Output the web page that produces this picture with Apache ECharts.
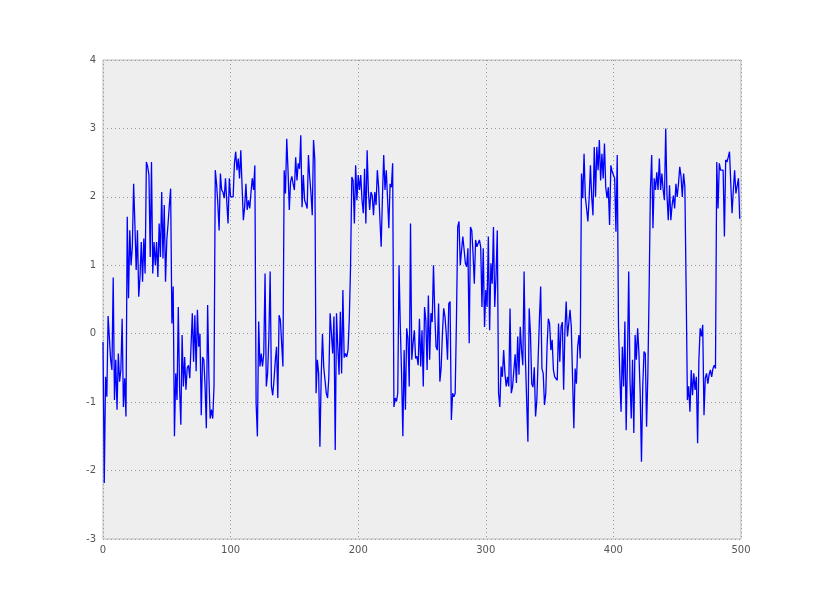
<!DOCTYPE html>
<html>
<head>
<meta charset="utf-8">
<script src="https://cdn.jsdelivr.net/npm/echarts@6/dist/echarts.min.js"></script>
<style>html,body{margin:0;padding:0;background:#fff}#c{width:825px;height:600px}</style>
</head>
<body>
<div id="c"></div>
<script>
const xTicks = [0, 100, 200, 300, 400, 500];
const yTicks = [-3, -2, -1, 0, 1, 2, 3, 4];
const values = [
-0.12, -2.18, -0.63, -0.92, 0.26, 0.26, -0.38, -0.53, 0.82, -0.97, -0.38, -1.11, -0.29, -0.7, -0.53, 0.22, -1.07, -0.65, -1.21, 1.71, 0.52, 1.51, 1.0, 1.27, 2.19, 1.6, 0.93, 1.51, 0.54, 0.83, 1.34, 0.76, 1.39, 0.88, 2.51, 2.44, 2.32, 1.12, 2.51, 0.88, 1.34, 1.00,
1.34, 0.83, 1.61, 1.12, 2.07, 1.10, 1.88, 0.76, 1.37, 1.61, 1.88, 2.12, 0.15, 0.69, -1.50, -0.58, -0.97, 0.39, -0.77, -1.33, -0.02, -0.77, -0.34, -0.82, -0.5, -0.46, -0.65, -0.63, 0.30, -0.41, 0.27, -0.55, 0.35, -0.19, 0.0, -1.19, -0.34, -0.38, -0.77, -1.38, 0.42, -0.63, -1.24, -1.11, -1.24, -0.77,
2.39, 2.19, 1.90, 1.51, 2.34, 2.10, 2.07, 1.98, 2.27, 1.93, 1.61, 2.27, 2.00, 1.98, 2.00, 2.49, 2.66, 2.39, 2.56, 2.27, 2.68, 2.15, 1.66, 1.85, 2.19, 1.81, 1.95, 1.83, 2.07, 2.27, 2.10, 2.46, -1.02, -1.50, 0.18, -0.48, -0.29, -0.48, -0.29,
0.88, -0.77, -0.58, -0.05, 0.91, -0.77, -0.90, -0.68, -0.4, -0.19, -0.94, 0.27, 0.20, 0.20, -0.48, 2.39, 2.05, 2.85, 2.39, 1.81, 2.22, 2.3, 2.19, 2.10, 2.58, 2.24, 2.49, 2.41, 2.90, 1.85, 2.32, 1.95, 1.90, 1.83, 2.61, 2.29, 2.05, 1.73, 2.83, 2.54, -0.87,
-0.38, -0.58, -1.65, -0.63, 0.0, -0.49, -0.68, -0.87, -0.94, -0.63, 0.30, 0.30, -0.29, 0.25, -1.70, 0.30, -0.19, -0.60, 0.32, -0.58, 0.64, -0.35, -0.29, -0.34, -0.24, 0.2, 0.98, 2.29, 2.24, 1.61, 2.46, 1.95, 2.32, 2.10, 2.32, 1.95, 1.76, 2.41, 1.61, 2.68, 2.07, 1.81,
2.07, 2.02, 1.73, 2.07, 1.88, 2.39, 2.14, 1.68, 1.27, 2.00, 2.61, 2.10, 2.39, 1.98, 1.54, 2.19, 2.14, 2.49, -1.07, -0.94, -0.99, -0.87, 1.00, 0.10, -0.58, -1.50, -0.24, -1.11, 0.08, -0.07, -0.77, 1.61, -0.38, -0.14, 0.05, -0.36, -0.33, -0.46, 0.22, -0.48,
0.05, -0.77, 0.39, 0.20, -0.53, 0.56, -0.38, 0.30, 0.17, 1.00, 0.30, -0.19, -0.24, 0.44, -0.70, -0.5, 0.0, 0.37, 0.25, 0.0, -0.38, 0.44, 0.47, -1.26, -0.87, -0.92, -0.87, 0.20, 1.56, 1.64, 1.00, 1.22, 1.42, 1.42, 1.03, 0.98, 1.25, -0.14, 1.56, 1.51, 1.17, 0.73,
1.37, 1.27, 1.27, 1.37, 1.27, 0.39, 1.25, 0.10, 0.64, 0.39, 1.42, 0.05, 1.03, 0.73, 1.56, 0.39, 0.83, 1.51, -0.87, -1.07, -0.48, -0.63, -0.24, -0.58, -0.77, -0.63, -0.77, 0.37, -0.87, -0.77, -0.53, -0.3, -0.72, -0.04, -0.60, 0.10, -0.24, -0.46, 0.91, -0.34, -0.36, -1.58,
0.37, 0.0, -0.73, -0.78, -0.49, -1.21, -0.97, -0.38, 0.20, 0.69, -0.51, -0.58, -1.04, -0.87, -0.19, 0.22, 0.15, -0.24, -0.09, -0.53, -0.63, -0.65, -0.68, 0.15, -0.41, 0.10, 0.17, -0.82, 0.05, 0.47, -0.04, 0.15, 0.35, 0.10, 0.10, -1.38, -0.51, -0.73, -0.19, -0.02, -0.36,
2.34, 1.98, 2.63, 2.00, 1.83, 1.64, 1.98, 2.46, 2.00, 1.73, 2.73, 2.00, 2.73, 2.39, 2.83, 2.24, 2.63, 2.27, 2.78, 2.14, 1.98, 2.14, 1.59, 2.46, 2.37, 2.39, 2.27, 1.49, 2.61, 0.10, -0.58, -1.14, -0.19, -0.77, 0.18, -1.41, -0.38, 0.91, -0.68, -1.24, -0.38, -1.45,
-0.02, -0.38, 0.08, -0.29, -0.87, -1.87, -0.77, -0.26, -0.29, -1.36, -0.6, 0.64, 2.10, 2.61, 1.54, 2.27, 2.10, 2.36, 2.10, 2.56, 2.10, 2.34, 2.10, 1.95, 3.00, 2.02, 1.66, 2.17, 1.66, 1.88, 2.02, 1.83, 2.19, 2.00, 2.19, 2.44, 2.3, 2.00, 2.34, 2.15, 0.68, -0.97,
-0.77, -1.14, -0.53, -0.90, -0.58, -0.82, -0.63, -1.60, -0.38, 0.08, -0.04, 0.13, -1.19, -0.65, -0.58, -0.73, -0.60, -0.53, -0.63, -0.51, -0.46, -0.51, 2.51, 1.83, 2.49, 2.39, 2.41, 2.39, 1.42, 2.54, 2.51, 2.58, 2.66, 2.19, 1.76, 2.10, 2.39, 2.05, 2.07, 2.27, 1.68
];

const chart = echarts.init(document.getElementById('c'), null, {renderer: 'canvas'});
const labelStyle = {color: '#555555', fontSize: 10, fontFamily: 'DejaVu Sans'};
const gridLine = {show: true, lineStyle: {color: '#999999', width: 1, type: [1, 3]}};
chart.setOption({
  animation: false,
  backgroundColor: '#ffffff',
  grid: {left: 103, right: 84, top: 60, bottom: 61, show: true, backgroundColor: '#EEEEEE', borderColor: '#BCBCBC', borderWidth: 1},
  xAxis: {
    type: 'value', min: xTicks[0], max: xTicks[xTicks.length - 1], interval: 100,
    axisLine: {show: false}, axisTick: {show: false},
    axisLabel: Object.assign({margin: 6}, labelStyle),
    splitLine: gridLine
  },
  yAxis: {
    type: 'value', min: yTicks[0], max: yTicks[yTicks.length - 1], interval: 1,
    axisLine: {show: false}, axisTick: {show: false},
    axisLabel: Object.assign({margin: 7}, labelStyle),
    splitLine: gridLine
  },
  series: [{
    type: 'line',
    data: values.map((v, i) => [i, v]),
    showSymbol: false,
    symbol: 'none',
    lineStyle: {color: '#0000FF', width: 1.3},
    silent: true
  }]
});
</script>
</body>
</html>
